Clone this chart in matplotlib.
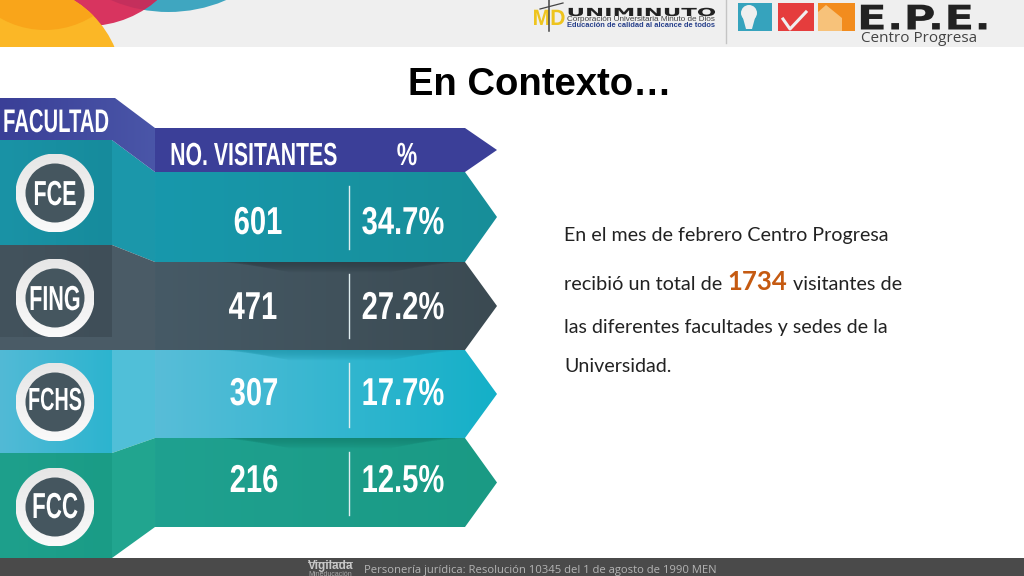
import numpy as np
import matplotlib
matplotlib.use("Agg")
import matplotlib.pyplot as plt
from matplotlib.patches import Polygon, Circle, Rectangle
from matplotlib.colors import LinearSegmentedColormap
from matplotlib.patheffects import AbstractPathEffect
from matplotlib.text import Text
from matplotlib.transforms import Affine2D, Bbox

# ---- data ----
faculties = ["FCE", "FING", "FCHS", "FCC"]
visitors = [601, 471, 307, 216]
percents = [34.7, 27.2, 17.7, 12.5]
total_visitors = 1734
title = "En Contexto…"
header_labels = ["FACULTAD", "NO. VISITANTES", "%"]

# ---- layout ----
BOLD = "Liberation Sans"
row_edges = [172, 262, 350, 438, 527]
left_edges = [140, 245, 350, 453, 558]
number_x = [258, 253, 254, 254]
number_base = [234, 319, 405, 492]
circle_y = [193, 298, 402, 507]
label_base = [205, 310, 410, 518]
label_size = [25, 25, 23, 26]
divider_y = [(186, 249), (274, 338), (363, 427), (452, 515)]
row_grad = [("#1898ac", "#178e99"), ("#465a66", "#3b4a52"),
            ("#58bdd8", "#14b0c8"), ("#1fa190", "#1a9a84")]
left_grad = [("#1a93a6", "#168b9c"), ("#43535d", "#3f4e58"),
             ("#52bad6", "#2cb4cf"), ("#1ea08c", "#1a9c86")]
bevel_col = ["#1b97aa", "#4a5b66", "#50bfd8", "#21a58f"]

fig = plt.figure(figsize=(10.24, 5.76), dpi=100, facecolor="white")
ax = fig.add_axes([0, 0, 1, 1])
ax.set_xlim(0, 1024)
ax.set_ylim(576, 0)
ax.axis("off")


class Stretch(AbstractPathEffect):
    """Scale a text's glyphs horizontally about a display x position."""
    def __init__(self, sx, get_cx):
        super().__init__()
        self.sx, self.get_cx = sx, get_cx

    def draw_path(self, renderer, gc, tpath, affine, rgbFace=None):
        cx = self.get_cx()
        extra = Affine2D().translate(-cx, 0).scale(self.sx, 1).translate(cx, 0)
        renderer.draw_path(gc, tpath, affine + extra, rgbFace)


class StretchedText(Text):
    def __init__(self, x, y, s, sx=1.0, **kw):
        super().__init__(x, y, s, **kw)
        self.sx = sx
        self.set_path_effects([Stretch(sx, self._cx)])

    def _cx(self):
        return ax.transData.transform((self.get_position()[0], 0))[0]

    def get_window_extent(self, renderer=None, dpi=None):
        bb = super().get_window_extent(renderer, dpi)
        c = self._cx()
        return Bbox.from_extents(c + (bb.x0 - c) * self.sx, bb.y0,
                                 c + (bb.x1 - c) * self.sx, bb.y1)


def stext(x, y, s, sx, **kw):
    kw.setdefault("ha", "center")
    kw.setdefault("va", "baseline")
    t = StretchedText(x, y, s, sx=sx, **kw)
    ax.add_artist(t)
    t.set_clip_on(False)
    return t


def gradient(pts, c0, c1, z=2, vertical=False, clip=None):
    if clip is None:
        clip = Polygon(pts, closed=True, fc="none", ec="none", transform=ax.transData)
    ax.add_patch(clip)
    xs = [p[0] for p in pts]
    ys = [p[1] for p in pts]
    g = np.linspace(0, 1, 128)
    g = g.reshape(-1, 1) if vertical else g.reshape(1, -1)
    cm = LinearSegmentedColormap.from_list("g", [c0, c1])
    im = ax.imshow(g, cmap=cm, extent=(min(xs), max(xs), max(ys), min(ys)),
                   aspect="auto", zorder=z, interpolation="bilinear")
    im.set_clip_path(clip)


# ---- top band ----
ax.add_patch(Rectangle((0, 0), 1024, 47, fc="#efefef", ec="none", zorder=1))
band = Rectangle((0, 0), 1024, 47, transform=ax.transData)
blue = Circle((168.5, -134), 146, fc="#3fa6c0", ec="none", zorder=1.2)
red = Circle((88, -79), 105, fc="#d8345f", ec="none", zorder=1.3)
over = Circle((168.5, -134), 146, fc="#c42f5c", ec="none", zorder=1.35)
yellow = Circle((20, 88), 103, fc="#fbb726", ec="none", zorder=1.4)
orange = Circle((45, -60), 90, fc="#f9a51a", ec="none", zorder=1.5)
for p in (blue, red, over, yellow, orange):
    ax.add_patch(p)
blue.set_clip_path(band)
red.set_clip_path(band)
over.set_clip_path(Circle((88, -79), 105, transform=ax.transData))
yellow.set_clip_path(band)
orange.set_clip_path(Circle((20, 88), 103, transform=ax.transData))

# uniminuto logo
stext(549, 25, "MD", 0.95, fontsize=16, weight="bold", color="#eec41e", family=BOLD, zorder=3)
ax.plot([549, 549], [0, 31], color="#444444", lw=1.1, zorder=4)
ax.plot([540, 563], [9, 3], color="#444444", lw=0.9, zorder=4)
stext(641, 16, "UNIMINUTO", 2.05, fontsize=8, weight="bold", color="#222222",
      family="DejaVu Sans", zorder=3)
ax.text(567, 19.5, "Corporación Universitaria Minuto de Dios", ha="left", va="center",
        fontsize=5.9, color="#444444", family=BOLD, zorder=3)
ax.text(567, 25.5, "Educación de calidad al alcance de todos", ha="left", va="center",
        fontsize=5.45, weight="bold", color="#27408b", family=BOLD, zorder=3)
ax.plot([726, 726], [0, 43], color="#c4c4c4", lw=1, zorder=3)

# E.P.E. icons
ax.add_patch(Rectangle((738, 3), 34, 28, fc="#36a3bd", ec="none", zorder=3))
ax.add_patch(Circle((749, 13), 8, fc="#efefef", ec="none", zorder=3.1))
ax.add_patch(Polygon([(743, 18), (755, 18), (752, 29), (746, 29)], fc="#efefef", ec="none", zorder=3.1))
ax.add_patch(Rectangle((778, 3), 36, 28, fc="#e53d3d", ec="none", zorder=3))
ax.plot([783, 790, 806], [19, 29, 12], color="#efefef", lw=2.2, zorder=3.1)
ax.add_patch(Rectangle((818, 3), 37, 28, fc="#f28c1e", ec="none", zorder=3))
ax.add_patch(Polygon([(818, 31), (818, 12), (826, 5), (842, 18), (842, 31)], fc="#f7c27a", ec="none", zorder=3.1))
stext(924, 29.5, "E.P.E.", 1.29, fontsize=24.5, weight="bold", color="#222222",
      family="DejaVu Sans", zorder=3)
ax.text(861, 38, "Centro Progresa", ha="left", va="center", fontsize=11,
        color="#444444", family="Open Sans", zorder=3)

# ---- title ----
ax.text(540, 85, title, ha="center", va="center", fontsize=27.5, weight="bold",
        color="black", family=BOLD, zorder=5)

# ---- infographic ----
for i in range(4):
    t, b = row_edges[i], row_edges[i + 1]
    m = (t + b) / 2
    gradient([(155, t), (465, t), (497, m), (465, b), (155, b)], *row_grad[i], z=2)
    lt, lb = left_edges[i], left_edges[i + 1]
    gradient([(0, lt), (112, lt), (112, lb), (0, lb)], *left_grad[i], z=2)
    ax.add_patch(Polygon([(112, lt), (155, t), (155, b), (112, lb)], fc=bevel_col[i], ec="none", zorder=2.1))

# FING strip under the panel
ax.add_patch(Rectangle((0, 337), 155, 13, fc=bevel_col[1], ec="none", zorder=2.2))

# soft shadows along the top of each lower row
shadow_col = ["#2c3a42", "#1c93a8", "#137f6e"]
for t, c in zip(row_edges[1:4], shadow_col):
    for k in range(8):
        h = 1 + k * 1.3
        ax.add_patch(Polygon([(215 + k * 4, t), (465 - k * 4, t), (440 - k * 7, t + h), (240 + k * 7, t + h)],
                             fc=c, ec="none", alpha=0.13, zorder=2.3))

# header bands
gradient([(0, 98), (115, 98), (155, 128), (155, 172), (112, 140), (0, 140)], "#3a3f97", "#4a56a8", z=2.4)
ax.add_patch(Polygon([(155, 128), (465, 128), (497, 150), (465, 172), (155, 172)], fc="#3b3f98", ec="none", zorder=2.5))

stext(56, 132, header_labels[0], 0.62, fontsize=23.5, weight="bold", color="white", family=BOLD, zorder=6)
stext(254, 165, header_labels[1], 0.665, fontsize=23, weight="bold", color="white", family=BOLD, zorder=6)
stext(407, 165, header_labels[2], 0.72, fontsize=23, weight="bold", color="white", family=BOLD, zorder=6)

for i, fac in enumerate(faculties):
    cy = circle_y[i]
    gradient([(16, cy - 39), (94, cy - 39), (94, cy + 39), (16, cy + 39)], "#e6e6e6", "#fafafa", z=3, vertical=True,
             clip=Circle((55, cy), 39.5, fc="none", ec="none", transform=ax.transData))
    ax.add_patch(Circle((55, cy), 29.5, fc="#45565f", ec="none", zorder=3.2))
    stext(55, label_base[i], fac, 0.62, fontsize=label_size[i], weight="bold", color="white", family=BOLD, zorder=6)
    stext(number_x[i], number_base[i], str(visitors[i]), 0.75, fontsize=28, weight="bold",
          color="white", family=BOLD, zorder=6)
    stext(403, number_base[i], f"{percents[i]:.1f}%", 0.75, fontsize=28, weight="bold",
          color="white", family=BOLD, zorder=6)
    ax.plot([349, 349], divider_y[i], color="#dfeef0", lw=1, zorder=6)

# ---- right text ----
tx = dict(ha="left", va="center", fontsize=14.15, color="#222222", family="Lato", zorder=6)
tx2 = dict(tx, fontsize=14.35)
ax.text(564, 235, "En el mes de febrero Centro Progresa", **tx)
ax.text(564, 284, "recibió un total de", **tx2)
ax.text(727, 282, str(total_visitors), ha="left", va="center", fontsize=18.5, weight="bold",
        color="#c55a11", family="Lato", zorder=6)
ax.text(793, 284, "visitantes de", **tx2)
ax.text(564, 327, "las diferentes facultades y sedes de la", **tx)
ax.text(564, 366, "Universidad.", **tx)

# ---- footer ----
ax.add_patch(Rectangle((0, 558), 1024, 18, fc="#4a4a4a", ec="none", zorder=1))
ax.plot([308, 352], [561.5, 561.5], color="#b8b8b8", lw=0.7, zorder=3)
ax.text(308, 566.5, "Vigilada", ha="left", va="center", fontsize=8.5, weight="bold",
        color="#c8c8c8", family=BOLD, zorder=3)
ax.text(308, 575, "Mineducación", ha="left", va="center", fontsize=5,
        color="#aaaaaa", family=BOLD, zorder=3)
ax.text(364, 570, "Personería jurídica: Resolución 10345 del 1 de agosto de 1990 MEN",
        ha="left", va="center", fontsize=8.13, color="#b4b4b4", family="Open Sans", zorder=3)

ax.set_xlim(0, 1024)
ax.set_ylim(576, 0)
fig.savefig("out.png", dpi=100)
